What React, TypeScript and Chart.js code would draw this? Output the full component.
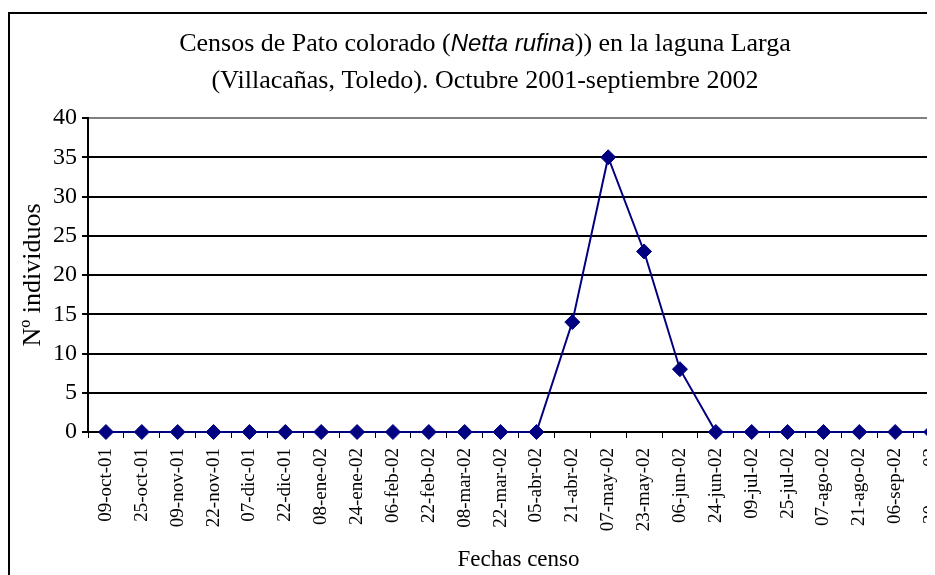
import { useEffect, useRef } from "react";
import { Chart, registerables } from "chart.js";

Chart.register(...registerables);

const categories = [
  "09-oct-01", "25-oct-01", "09-nov-01", "22-nov-01", "07-dic-01", "22-dic-01",
  "08-ene-02", "24-ene-02", "06-feb-02", "22-feb-02", "08-mar-02", "22-mar-02",
  "05-abr-02", "21-abr-02", "07-may-02", "23-may-02", "06-jun-02", "24-jun-02",
  "09-jul-02", "25-jul-02", "07-ago-02", "21-ago-02", "06-sep-02", "20-sep-02",
];
const counts = [0, 0, 0, 0, 0, 0, 0, 0, 0, 0, 0, 0, 0, 14, 35, 23, 8, 0, 0, 0, 0, 0, 0, 0];
const yMin = 0;
const yMax = 40;
const yStep = 5;

const titleLine1 = ["Censos de Pato colorado (", "Netta rufina", ")) en la laguna Larga"];
const titleLine2 = "(Villacañas, Toledo). Octubre 2001-septiembre 2002";
const xTitle = "Fechas censo";
const yTitle = "Nº individuos";

const SERIF = "'Liberation Serif', 'Times New Roman', serif";
const SANS = "'Liberation Sans', Arial, sans-serif";

const titlePlugin = {
  id: "mixedTitle",
  afterDraw(chart: any) {
    const ctx = chart.ctx as CanvasRenderingContext2D;
    ctx.save();
    ctx.fillStyle = "#000";
    ctx.textBaseline = "middle";
    const cx = chart.width / 2;
    const fonts = [`26px ${SERIF}`, `italic 24px ${SANS}`, `26px ${SERIF}`];
    let total = 0;
    titleLine1.forEach((t, i) => {
      ctx.font = fonts[i];
      total += ctx.measureText(t).width;
    });
    let x = cx - total / 2;
    ctx.textAlign = "left";
    titleLine1.forEach((t, i) => {
      ctx.font = fonts[i];
      ctx.fillText(t, x, 30);
      x += ctx.measureText(t).width;
    });
    ctx.font = `26px ${SERIF}`;
    ctx.textAlign = "center";
    ctx.fillText(titleLine2, cx, 67);
    ctx.restore();
  },
};

export default function App() {
  const ref = useRef<HTMLCanvasElement | null>(null);

  useEffect(() => {
    if (!ref.current) return;
    const chart = new Chart(ref.current, {
      type: "line",
      data: {
        labels: categories,
        datasets: [
          {
            data: counts,
            borderColor: "#000080",
            backgroundColor: "#000080",
            borderWidth: 2,
            pointStyle: "rectRot",
            pointRadius: 7.5,
            pointBorderWidth: 1,
            pointBackgroundColor: "#000080",
            pointBorderColor: "#000080",
            tension: 0,
            clip: false,
          },
        ],
      },
      options: {
        responsive: false,
        animation: false,
        devicePixelRatio: 1,
        layout: { padding: { top: 104, left: 4, right: 11, bottom: 16 } },
        plugins: {
          legend: { display: false },
          tooltip: { enabled: false },
          title: { display: false },
        },
        scales: {
          x: {
            type: "category",
            offset: true,
            grid: {
              display: true,
              drawOnChartArea: false,
              drawTicks: true,
              tickLength: 6,
              offset: true,
              color: "#000",
              lineWidth: 1,
            },
            border: { display: true, color: "#000", width: 2 },
            ticks: {
              autoSkip: false,
              minRotation: 90,
              maxRotation: 90,
              padding: 10,
              color: "#000",
              font: { family: SERIF, size: 19 },
            },
            title: {
              display: true,
              text: xTitle,
              color: "#000",
              font: { family: SERIF, size: 23 },
              padding: { top: 4, bottom: 4 },
            },
            afterFit(scale: any) {
              scale.height = 146;
              scale.paddingLeft = 0;
              scale.paddingRight = 0;
            },
          },
          y: {
            min: yMin,
            max: yMax,
            ticks: {
              stepSize: yStep,
              padding: 5,
              color: "#000",
              font: { family: SERIF, size: 24 },
            },
            grid: {
              color: (c: any) => (c.tick && c.tick.value === yMax ? "#808080" : "#000"),
              tickColor: "#000",
              lineWidth: 2,
              tickLength: 6,
            },
            border: { display: true, color: "#000", width: 2 },
            title: {
              display: true,
              text: yTitle,
              color: "#000",
              font: { family: SERIF, size: 26 },
              padding: { top: 4, bottom: 4 },
            },
            afterFit(scale: any) {
              scale.width = 74;
              scale.paddingTop = 0;
              scale.paddingBottom = 0;
            },
          },
        },
      },
      plugins: [titlePlugin],
    });
    return () => chart.destroy();
  }, []);

  return (
    <div style={{ position: "relative", width: 927, height: 567, overflow: "hidden" }}>
      <div
        style={{
          position: "absolute",
          left: 0,
          top: 4,
          border: "2px solid #000",
          width: 960,
          height: 620,
          background: "#fff",
        }}
      >
        <canvas ref={ref} width={950} height={580} style={{ display: "block", width: 950, height: 580 }} />
      </div>
    </div>
  );
}
